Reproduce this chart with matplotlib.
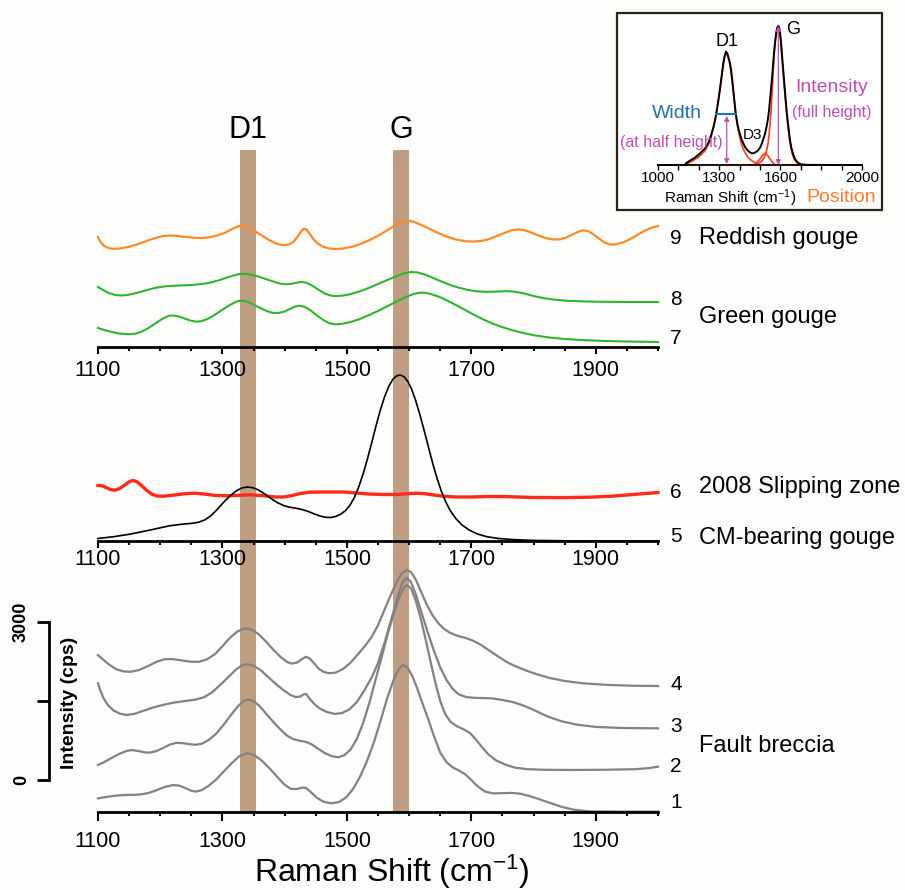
import matplotlib
matplotlib.use('Agg')
import matplotlib.pyplot as plt
from matplotlib.patches import Rectangle
from matplotlib.ticker import MultipleLocator, FixedLocator

plt.rcParams['font.family'] = ['Liberation Sans', 'DejaVu Sans']
plt.rcParams['mathtext.default'] = 'regular'

# ---------------- data ----------------
band_d1 = (1328, 1354)
band_g = (1574, 1600)
band_labels = ['D1', 'G']
band_label_x = [1341, 1587]

# top panel (arbitrary units above baseline)
s9_x = [1100, 1104, 1110, 1118, 1125, 1135, 1150, 1165, 1180, 1195, 1205, 1215, 1225, 1240, 1255, 1268, 1280,
        1292, 1305, 1317, 1326, 1332, 1340, 1350, 1362, 1375, 1388, 1398, 1406, 1414, 1421, 1427, 1431, 1435,
        1440, 1446, 1453, 1462, 1472, 1482, 1495, 1510, 1525, 1540, 1555, 1568, 1580, 1590, 1598, 1607, 1618,
        1630, 1645, 1660, 1675, 1690, 1705, 1718, 1730, 1742, 1755, 1765, 1775, 1785, 1795, 1808, 1820, 1832,
        1842, 1852, 1862, 1872, 1880, 1888, 1896, 1905, 1914, 1922, 1932, 1945, 1958, 1970, 1982, 1992, 2000]
s9_y = [110, 105, 101, 98.8, 98.2, 98.5, 100.2, 103, 106.5, 109.5, 111, 111.5, 111.2, 110, 109.2, 109, 109.8,
        111.5, 114.5, 118.5, 120.8, 121.2, 119.8, 116.5, 112, 107, 103, 101.8, 102.3, 105, 110.5, 116, 118.3, 117.5,
        113.5, 108, 103.5, 100.3, 98.5, 98, 98.6, 100.5, 103.8, 108, 113, 118, 122.5, 125.5, 126.2, 125.3, 122.5,
        119, 114.5, 110.5, 107.5, 105.8, 105.5, 106.3, 108.2, 111.2, 114.5, 116.8, 117.6, 116.8, 114.8, 111.5,
        108.8, 107.5, 107.6, 109.3, 112.3, 115.3, 116.7, 115.8, 112.8, 108.5, 104.5, 102.6, 102.6, 104.8, 108.8,
        113.3, 117.3, 119.8, 121]

s8_x = [1100, 1108, 1118, 1128, 1138, 1150, 1165, 1180, 1195, 1210, 1230, 1250, 1265, 1280, 1295, 1310, 1322,
        1332, 1342, 1355, 1368, 1380, 1392, 1402, 1412, 1422, 1428, 1435, 1444, 1455, 1465, 1475, 1482, 1492,
        1505, 1520, 1535, 1550, 1565, 1580, 1592, 1603, 1613, 1625, 1638, 1650, 1665, 1680, 1695, 1710, 1725,
        1740, 1757, 1770, 1785, 1800, 1815, 1830, 1850, 1875, 1900, 1950, 2000]
s8_y = [60, 57, 53.8, 52, 51.5, 52.3, 54.5, 57.2, 59.5, 60.8, 61.5, 62, 62.8, 64.3, 66.8, 70, 72.3,
        73.3, 72.9, 71, 68.3, 65.8, 63.5, 62.7, 63.3, 64.7, 65, 64.2, 61.5, 57, 53.3, 51.3, 50.9, 51.3,
        52.7, 55.5, 59, 63, 67, 70.8, 73.6, 75, 74.6, 72.5, 69.3, 66, 62.3, 59.3, 57, 55.6, 55.2,
        55.4, 55.9, 55.3, 53.5, 51, 49, 47.6, 46.4, 45.7, 45.3, 45, 45]

s7_x = [1100, 1110, 1122, 1135, 1148, 1158, 1168, 1180, 1192, 1203, 1213, 1220, 1230, 1240, 1250, 1258, 1266,
        1276, 1288, 1300, 1312, 1322, 1328, 1336, 1346, 1358, 1370, 1380, 1390, 1400, 1410, 1418, 1424, 1432,
        1442, 1452, 1462, 1472, 1480, 1490, 1505, 1520, 1535, 1550, 1565, 1580, 1595, 1607, 1617, 1625, 1635,
        1648, 1660, 1675, 1690, 1705, 1720, 1735, 1750, 1765, 1780, 1800, 1825, 1850, 1880, 1910, 1950, 2000]
s7_y = [19, 17, 15, 13.4, 12.8, 13, 14.8, 18.5, 23.5, 28, 31, 31.6, 30.5, 28.3, 26.2, 25.4, 25.8,
        28, 32.3, 37.3, 42, 45.3, 46.3, 46, 43.7, 39.8, 36.3, 34.2, 34, 35.5, 38.5, 40.7, 41.3, 40.2,
        36.5, 31.5, 27, 23.8, 22.7, 23, 24.8, 27.8, 31.8, 36, 40.8, 45.5, 50, 53, 54.3, 54.3, 53,
        50.3, 46.8, 42, 37, 32, 27.3, 23.2, 19.8, 17, 14.5, 11.8, 9.5, 8, 6.9, 6.1, 5.5, 5]

# middle panel
s6_x = [1100, 1106, 1113, 1120, 1127, 1135, 1143, 1150, 1156, 1162, 1170, 1178, 1186, 1195, 1205, 1220, 1240,
        1255, 1270, 1290, 1310, 1330, 1345, 1365, 1385, 1398, 1412, 1425, 1440, 1465, 1495, 1515, 1535, 1560,
        1580, 1595, 1610, 1625, 1640, 1655, 1675, 1700, 1725, 1750, 1775, 1800, 1850, 1890, 1925, 1960, 2000]
s6_y = [55.5, 55.3, 53.5, 51.5, 50.8, 52.5, 56, 59.2, 60.5, 59.5, 55.5, 50.8, 47, 45, 44.8, 45.8, 47.3,
        47.8, 47, 45.5, 45.2, 45.8, 46.2, 45.3, 44, 44, 45.5, 47.5, 48.8, 49, 49, 48, 47, 46.5,
        46.5, 47.2, 47.8, 47.3, 46, 44.8, 44, 44, 44.5, 44.5, 44, 43.5, 43.4, 43.8, 44.8, 46.5, 48.5]

s5_x = [1100, 1125, 1150, 1175, 1195, 1215, 1235, 1250, 1262, 1272, 1282, 1292, 1302, 1312, 1322, 1331, 1340,
        1349, 1358, 1368, 1378, 1388, 1398, 1408, 1418, 1428, 1438, 1448, 1458, 1466, 1474, 1482, 1490, 1498,
        1505, 1512, 1519, 1526, 1533, 1540, 1547, 1554, 1561, 1568, 1574, 1580, 1586, 1592, 1598, 1604, 1610,
        1617, 1624, 1631, 1638, 1645, 1652, 1659, 1666, 1675, 1685, 1697, 1710, 1725, 1745, 1770, 1800, 1850,
        1900, 2000]
s5_y = [2.5, 4.3, 6.7, 9.8, 12.5, 15.2, 16.8, 17.6, 18.8, 21.2, 25.5, 31.8, 38.8, 45, 50, 53, 54,
        53.3, 51, 47, 42.5, 38.5, 35.5, 33.8, 32.8, 31.5, 29.5, 27, 24.8, 23.7, 23.5, 24.5, 26.8, 30.5,
        35.8, 43.5, 54, 67, 82, 98.5, 115.5, 131.5, 145, 155.5, 161.8, 165.2, 166, 164.2, 159.5, 151.8, 141.5,
        127, 111, 94, 77.5, 62.5, 49.5, 39, 30.5, 22.5, 16, 10.8, 7, 4.3, 2.4, 1.3, 0.6, 0.2,
        0.1, 0]

# bottom panel (cps)
s4_x = [1100, 1108, 1118, 1130, 1142, 1152, 1165, 1180, 1195, 1208, 1220, 1235, 1250, 1262, 1275, 1288, 1300,
        1312, 1324, 1336, 1347, 1358, 1370, 1382, 1394, 1404, 1412, 1420, 1427, 1434, 1440, 1447, 1455, 1463,
        1472, 1482, 1494, 1506, 1518, 1530, 1540, 1550, 1560, 1570, 1580, 1588, 1596, 1603, 1611, 1619, 1628,
        1637, 1646, 1655, 1665, 1677, 1690, 1702, 1715, 1730, 1745, 1760, 1775, 1790, 1805, 1825, 1850, 1880,
        1920, 1960, 2000]
s4_y = [2370, 2290, 2190, 2100, 2060, 2055, 2085, 2160, 2250, 2295, 2295, 2270, 2245, 2245, 2290, 2390, 2540,
        2700, 2820, 2880, 2855, 2770, 2630, 2470, 2330, 2240, 2210, 2230, 2290, 2340, 2310, 2220, 2110, 2050,
        2028, 2040, 2110, 2230, 2390, 2560, 2720, 2940, 3220, 3500, 3760, 3920, 3990, 3950, 3800, 3580, 3340,
        3140, 2990, 2880, 2800, 2740, 2700, 2650, 2570, 2450, 2330, 2220, 2140, 2070, 2010, 1940, 1880, 1835,
        1805, 1790, 1785]

s3_x = [1100, 1104, 1109, 1116, 1125, 1135, 1146, 1158, 1172, 1188, 1204, 1222, 1240, 1256, 1270, 1283, 1296,
        1310, 1322, 1332, 1340, 1350, 1362, 1375, 1388, 1400, 1410, 1418, 1425, 1431, 1435, 1440, 1447, 1456,
        1467, 1480, 1492, 1504, 1516, 1528, 1540, 1550, 1561, 1572, 1582, 1590, 1596, 1603, 1611, 1620, 1630,
        1640, 1650, 1660, 1670, 1680, 1692, 1705, 1720, 1735, 1750, 1765, 1780, 1795, 1810, 1825, 1845, 1870,
        1900, 1940, 2000]
s3_y = [1836, 1690, 1550, 1420, 1320, 1260, 1234, 1255, 1310, 1375, 1425, 1470, 1500, 1525, 1570, 1660, 1800,
        1960, 2100, 2180, 2200, 2170, 2080, 1940, 1800, 1690, 1610, 1575, 1585, 1630, 1630, 1545, 1450, 1360,
        1295, 1255, 1270, 1340, 1480, 1700, 1950, 2220, 2627, 3080, 3500, 3770, 3840, 3760, 3520, 3180, 2800,
        2450, 2140, 1900, 1730, 1625, 1575, 1560, 1555, 1548, 1520, 1485, 1430, 1360, 1275, 1195, 1115, 1050,
        1008, 988, 981]

s2_x = [1100, 1110, 1122, 1135, 1147, 1155, 1165, 1175, 1183, 1193, 1205, 1216, 1226, 1236, 1247, 1257, 1267,
        1278, 1290, 1302, 1314, 1325, 1334, 1341, 1350, 1360, 1370, 1382, 1394, 1404, 1414, 1424, 1434, 1443,
        1453, 1464, 1475, 1486, 1496, 1506, 1516, 1526, 1536, 1546, 1556, 1566, 1576, 1585, 1592, 1597, 1603,
        1610, 1618, 1626, 1634, 1642, 1650, 1658, 1667, 1677, 1688, 1698, 1708, 1718, 1728, 1740, 1755, 1770,
        1790, 1820, 1866, 1920, 1963, 1985, 2000]
s2_y = [285, 340, 420, 500, 555, 568, 550, 525, 520, 545, 610, 675, 705, 700, 680, 668, 690,
        760, 880, 1050, 1240, 1400, 1500, 1530, 1500, 1400, 1260, 1100, 950, 840, 775, 745, 725, 680,
        600, 515, 455, 431, 470, 580, 780, 1080, 1460, 1900, 2340, 2790, 3180, 3490, 3660, 3700, 3640,
        3430, 3100, 2700, 2270, 1860, 1500, 1250, 1100, 1020, 960, 890, 760, 610, 480, 370, 290, 235,
        205, 193, 190, 195, 205, 225, 253]

s1_x = [1100, 1115, 1130, 1143, 1158, 1170, 1182, 1195, 1208, 1220, 1230, 1240, 1250, 1257, 1266, 1278, 1290,
        1302, 1315, 1327, 1339, 1350, 1362, 1375, 1388, 1400, 1410, 1420, 1428, 1434, 1442, 1452, 1463, 1475,
        1487, 1499, 1510, 1521, 1532, 1543, 1554, 1565, 1575, 1583, 1590, 1597, 1605, 1613, 1621, 1630, 1640,
        1650, 1660, 1670, 1680, 1690, 1700, 1710, 1722, 1735, 1750, 1765, 1778, 1792, 1808, 1825, 1845, 1865,
        1890, 1930, 2000]
s1_y = [-348, -320, -295, -285, -282, -272, -245, -190, -130, -98, -105, -150, -205, -220, -195, -110, 10,
        160, 320, 450, 507, 480, 380, 230, 60, -90, -170, -170, -145, -150, -230, -340, -415, -443,
        -420, -330, -170, 60, 350, 700, 1120, 1560, 1900, 2100, 2184, 2140, 1980, 1740, 1470, 1180, 830,
        520, 340, 240, 180, 110, 0, -120, -220, -255, -250, -245, -260, -300, -360, -430, -510, -565,
        -595, -600, -600]

scale_ticks = [0, 1500, 3000]
scale_labels = ['0', '', '3000']
xticks_major = [1100, 1300, 1500, 1700, 1900]

right_numbers = [('9', 238), ('8', 300), ('7', 339), ('6', 492), ('5', 537),
                 ('4', 684), ('3', 726), ('2', 766), ('1', 803)]
right_names = [('Reddish gouge', 238), ('Green gouge', 317), ('2008 Slipping zone', 487),
               ('CM-bearing gouge', 538), ('Fault breccia', 746)]

# inset spectrum
in_x = [1000, 1130, 1141, 1160, 1180, 1197, 1214, 1228, 1240, 1252, 1263, 1272, 1280, 1288, 1296, 1303, 1310,
        1315, 1320, 1326, 1333, 1339, 1345, 1349, 1353, 1359, 1365, 1373, 1381, 1390, 1400, 1409, 1418, 1428,
        1440, 1450, 1459, 1467, 1475, 1484, 1492, 1501, 1510, 1518, 1525, 1532, 1538, 1544, 1549, 1555, 1560,
        1565, 1570, 1575, 1580, 1585, 1590, 1594, 1598, 1602, 1606, 1611, 1616, 1621, 1626, 1631, 1637, 1642,
        1647, 1654, 1662, 1670, 1680, 1692, 1704, 1730, 1750, 2000]
in_black = [0, 0, 2.3, 4.8, 7.2, 10, 13.3, 16, 19.5, 24.5, 31.7, 38, 45, 54, 65, 75, 86,
            94, 101.7, 108.5, 113.3, 112, 108, 105, 101.7, 94, 83, 67, 51.7, 40, 32, 26, 21.7, 17.5,
            14.5, 12.8, 11.7, 11.7, 12.5, 13.5, 15, 17.5, 22, 27, 31.7, 38, 45, 54, 65, 78, 90,
            103, 115, 125, 133, 137.5, 139, 137.5, 133, 125, 115, 102, 90, 77, 65, 53, 42, 33,
            25, 17, 11, 6.5, 3.5, 1.5, 0.6, 0.2, 0.1, 0]
in_d1_x = [1130, 1160, 1200, 1230, 1255, 1275, 1296, 1310, 1320, 1327, 1333, 1340, 1347, 1353, 1362, 1372,
           1381, 1395, 1410, 1425, 1440, 1455, 1470, 1485, 1500]
in_d1_y = [0, 3, 8, 14, 24, 40, 64, 84, 100, 108, 112, 110, 105, 100, 87, 68, 50, 33, 20, 13, 8, 5, 3, 1.3, 0]
in_g_x = [1480, 1495, 1510, 1520, 1530, 1540, 1549, 1555, 1560, 1565, 1570, 1575, 1580, 1585, 1590, 1594,
          1598, 1602, 1606, 1611, 1616, 1621, 1626, 1636, 1647, 1658, 1670, 1685, 1700]
in_g_y = [0, 2, 4, 7.5, 12, 22, 40, 57, 75, 94, 112, 124, 131, 135.5, 137, 135.5, 131, 123, 112, 99, 86, 74,
          62, 40, 22, 11, 5, 1.5, 0]
in_d3_x = [1470, 1485, 1500, 1512, 1525, 1538, 1550, 1562, 1575]
in_d3_y = [0, 2.5, 6, 9.5, 12, 9.5, 6, 2.5, 0]
in_base_x = [1130, 1700]
in_base_y = [0, 0]
in_width = (1284, 1381, 51)        # left, right, height
in_d1_arrow = (1337, 1, 49)        # x, bottom, top
in_g_arrow = (1590, 0, 139)
in_ticks = [1000, 1300, 1600, 2000]

# ---------------- figure ----------------
W_PX, H_PX = 905, 890


def fx(px):
    return px / W_PX


def fy(py):
    return 1 - py / H_PX


fig = plt.figure(figsize=(9.05, 8.9), dpi=100, facecolor='#fdfdfb')

band_color = '#c09e82'
ax_band = fig.add_axes([fx(98), fy(812), fx(658) - fx(98), fy(150) - fy(812)], zorder=0)
ax_band.set_xlim(1100, 2000)
ax_band.set_ylim(0, 1)
ax_band.axis('off')
for lo, hi in (band_d1, band_g):
    ax_band.axvspan(lo, hi, color=band_color, lw=0)
for lab, xx in zip(band_labels, band_label_x):
    ax_band.text(xx, 1.030, lab, ha='center', va='center', fontsize=22)


def panel(bottom_px, top_px, ylim, pad, tick_len=5):
    ax = fig.add_axes([fx(98), fy(bottom_px), fx(658) - fx(98), fy(top_px) - fy(bottom_px)], zorder=1)
    ax.patch.set_visible(False)
    ax.set_xlim(1100, 2000)
    ax.set_ylim(*ylim)
    for s in ('top', 'right', 'left'):
        ax.spines[s].set_visible(False)
    ax.spines['bottom'].set_linewidth(2.0)
    ax.set_xticks(xticks_major)
    ax.xaxis.set_minor_locator(MultipleLocator(50))
    ax.tick_params(axis='x', which='major', direction='out', length=tick_len, width=1.5,
                   labelsize=15.5, pad=pad)
    ax.tick_params(axis='x', which='minor', direction='out', length=3, width=1.5)
    ax.set_yticks([])
    return ax


ax_top = panel(347, 205, (0, 142), 4.5)
ax_mid = panel(541, 365, (0, 176), 1.0)
ax_bot = panel(812, 565, (-608, 4083), 7.0, tick_len=6.5)

orange = '#ff8a2a'
green = '#2fb52f'
gray = '#878080'
ax_top.plot(s9_x, s9_y, color=orange, lw=1.6, clip_on=False, solid_joinstyle='round')
ax_top.plot(s8_x, s8_y, color=green, lw=1.5, clip_on=False, solid_joinstyle='round')
ax_top.plot(s7_x, s7_y, color=green, lw=1.5, clip_on=False, solid_joinstyle='round')

ax_mid.plot(s6_x, s6_y, color='#ff2a1a', lw=2.4, clip_on=False, solid_joinstyle='round')
ax_mid.plot(s5_x, s5_y, color='black', lw=1.2, clip_on=False, solid_joinstyle='round')

for xs, ys in ((s4_x, s4_y), (s3_x, s3_y), (s2_x, s2_y), (s1_x, s1_y)):
    ax_bot.plot(xs, ys, color=gray, lw=1.6, clip_on=False, solid_joinstyle='round')

# intensity scale bar
ax_bot.spines['left'].set_visible(True)
ax_bot.spines['left'].set_position(('outward', 49 * 0.72))
ax_bot.spines['left'].set_bounds(0, 3000)
ax_bot.spines['left'].set_linewidth(2.0)
ax_bot.set_yticks(scale_ticks)
ax_bot.set_yticklabels(scale_labels, rotation=90, va='center', fontweight='bold', fontsize=13)
ax_bot.tick_params(axis='y', direction='out', length=8.6, width=2.0, pad=5)
fig.text(fx(70), fy(703), 'Intensity (cps)', rotation=90, ha='center', va='center',
         fontweight='bold', fontsize=14)

fig.text(fx(392), fy(882), 'Raman Shift (cm$^{-1}$)', ha='center', va='baseline', fontsize=23)

for t, py in right_numbers:
    fig.text(fx(676), fy(py), t, ha='center', va='center', fontsize=15)
for t, py in right_names:
    fig.text(fx(699), fy(py), t, ha='left', va='center', fontsize=17)

# ---------------- inset ----------------
fig.add_artist(Rectangle((fx(617), fy(210)), fx(882) - fx(617), fy(13) - fy(210),
                         transform=fig.transFigure, facecolor='white', edgecolor='#2b2119',
                         lw=1.6, zorder=2))
ax_in = fig.add_axes([fx(658), fy(165), fx(862) - fx(658), fy(20) - fy(165)], zorder=3)
ax_in.patch.set_visible(False)
ax_in.set_xlim(1000, 2000)
ax_in.set_ylim(0, 145)
for s in ('top', 'right', 'left'):
    ax_in.spines[s].set_visible(False)
ax_in.spines['bottom'].set_linewidth(1.2)
ax_in.set_yticks([])
ax_in.xaxis.set_major_locator(FixedLocator(in_ticks))
ax_in.xaxis.set_minor_locator(MultipleLocator(100))
ax_in.tick_params(axis='x', which='both', direction='out', length=3.5, width=1.0, labelsize=11, pad=1.0)

red_fit = '#ff3b1f'
magenta = '#c04fb4'
ax_in.plot(in_base_x, in_base_y, color=red_fit, lw=1.2, clip_on=False)
ax_in.plot(in_d1_x, in_d1_y, color=red_fit, lw=1.2, clip_on=False)
ax_in.plot(in_d3_x, in_d3_y, color=red_fit, lw=1.2, clip_on=False)
ax_in.plot(in_g_x, in_g_y, color=red_fit, lw=1.2, clip_on=False)
ax_in.plot(in_x, in_black, color='black', lw=1.4, clip_on=False, solid_joinstyle='round')
ax_in.plot([in_width[0], in_width[1]], [in_width[2], in_width[2]], color='#2171b5', lw=1.5)
ax_in.annotate('', xy=(in_d1_arrow[0], in_d1_arrow[2]), xytext=(in_d1_arrow[0], in_d1_arrow[1]),
               arrowprops=dict(arrowstyle='<|-|>', color=magenta, lw=0.9, mutation_scale=7,
                               shrinkA=0, shrinkB=0))
ax_in.annotate('', xy=(in_g_arrow[0], in_g_arrow[2]), xytext=(in_g_arrow[0], in_g_arrow[1]),
               arrowprops=dict(arrowstyle='<|-|>', color=magenta, lw=0.9, mutation_scale=7,
                               shrinkA=0, shrinkB=0))

ax_in.text(1337, 123, 'D1', ha='center', va='center', fontsize=13)
ax_in.text(1662, 135, 'G', ha='center', va='center', fontsize=13)
ax_in.text(1092, 52, 'Width', ha='center', va='center', fontsize=14, color='#2171b5')
ax_in.text(1067, 23, '(at half height)', ha='center', va='center', fontsize=11.5, color=magenta)
ax_in.text(1464, 30, 'D3', ha='center', va='center', fontsize=11)
ax_in.text(1851, 77, 'Intensity', ha='center', va='center', fontsize=14, color=magenta)
ax_in.text(1851, 53, '(full height)', ha='center', va='center', fontsize=11.5, color=magenta)
ax_in.text(1900, -33, 'Position', ha='center', va='center', fontsize=14, color='#ff7b2e')
ax_in.text(1353, -33, 'Raman Shift (cm$^{-1}$)', ha='center', va='center', fontsize=11)

fig.savefig('out.png', dpi=100, facecolor=fig.get_facecolor())
